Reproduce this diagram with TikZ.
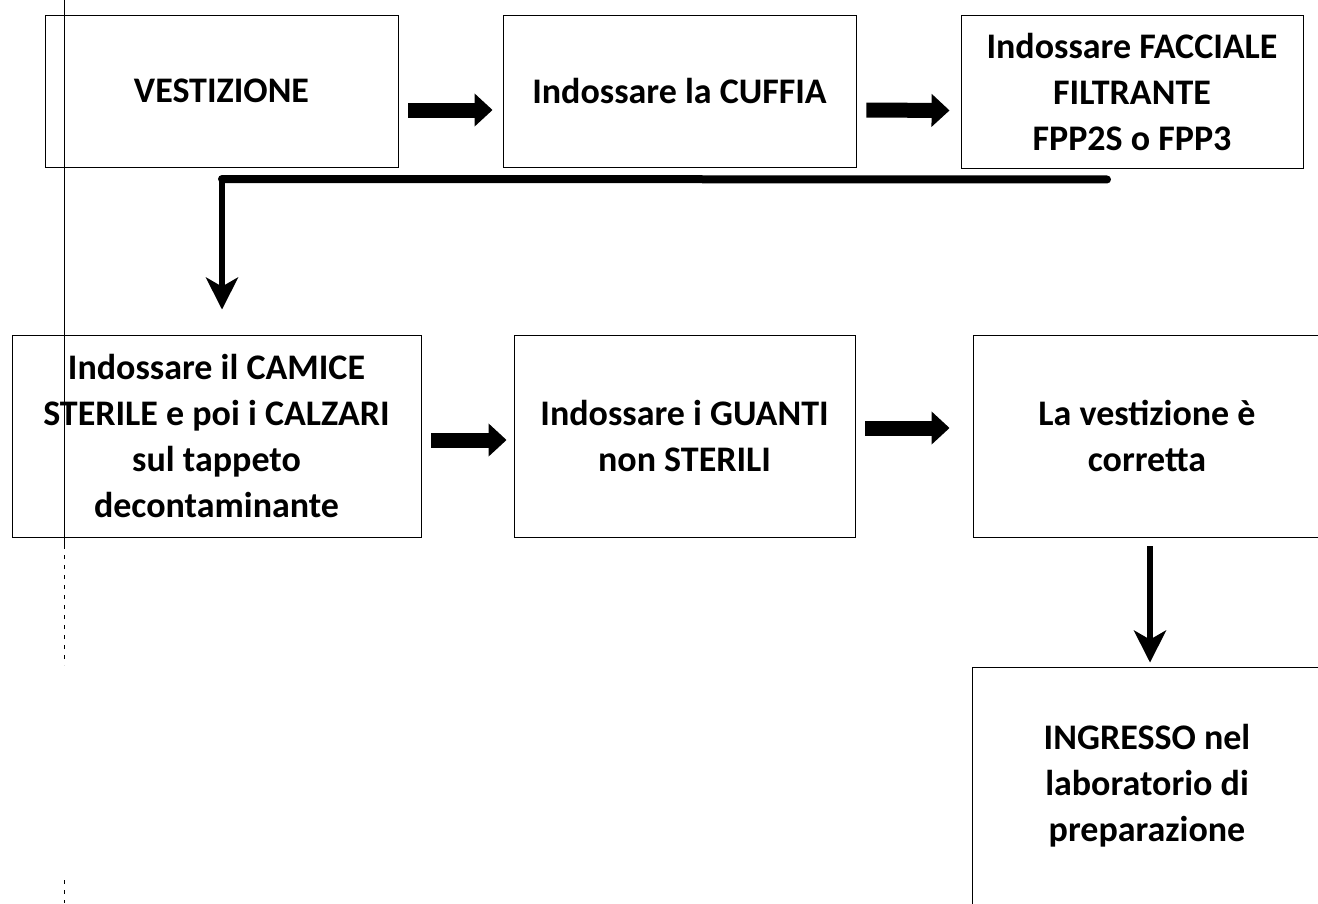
\documentclass[tikz,border=0pt]{standalone}
\usepackage{fontspec}
\setmainfont{Carlito}
\usetikzlibrary{arrows.meta}

\begin{document}
\begin{tikzpicture}[x=1pt, y=-1pt] %1 unit = 1 pixel of the scan, y grows downwards
\tikzstyle{every node} = [draw, line width=0.9pt, align=center, inner sep=0pt,
  font=\bfseries\fontsize{36}{46}\selectfont]
\tikzstyle{blockarrow} = [line width=15pt, -{Triangle[length=18pt, width=32pt]}]
\tikzstyle{downarrow} = [line width=6pt, -{Stealth[length=32pt, width=32pt, inset=9pt]}]
\useasboundingbox (0,0) rectangle (1318,903);
\clip (0,0) rectangle (1318,903);

% first row
\node [minimum width=353pt, minimum height=152pt] (vest) at (221.5, 91) {VESTIZIONE};
\node [minimum width=353pt, minimum height=152pt] (cuffia) at (679.5, 91) {Indossare la CUFFIA};
\node [minimum width=342pt, minimum height=153pt] (facciale) at (1132, 91.5)
  {Indossare FACCIALE\\FILTRANTE\\FPP2S o FPP3};

% second row
\node [minimum width=409pt, minimum height=202pt] (camice) at (216.5, 436)
  {Indossare il CAMICE\\STERILE e poi i CALZARI\\sul tappeto\\decontaminante};
\node [minimum width=341pt, minimum height=202pt] (guanti) at (684.5, 436)
  {Indossare i GUANTI\\non STERILI};
\node [minimum width=348pt, minimum height=202pt] (corretta) at (1147, 436)
  {La vestizione è\\corretta};

% last box, cut by the page edge
\node [minimum width=350pt, minimum height=238pt] (ingresso) at (1147, 786)
  {INGRESSO nel\\laboratorio di\\preparazione};

\foreach \from/\to/\dy/\sa/\sb in {vest/cuffia/19/10/10, cuffia/facciale/19/10/11,
  camice/guanti/4/10/7, guanti/corretta/-8/10/23}
\draw [blockarrow, shorten <=\sa pt, shorten >=\sb pt]
  ([yshift=-\dy pt]\from.east) -- ([yshift=-\dy pt]\to.west);

% back to the start of the second row
\coordinate (turn) at (222, 179);
\draw [line width=8pt, line cap=round] ([xshift=-25pt, yshift=-11pt]facciale.south) -- (turn);
\draw [downarrow] ([yshift=2pt]turn) -- ([yshift=25pt]camice.north -| turn);

\draw [downarrow, shorten <=9pt, shorten >=4pt] ([xshift=3pt]corretta.south) -- ([xshift=3pt]ingresso.north);

% margin line of the scanned page
\draw [line width=0.8pt] (64,0) -- (64,545);
\draw [line width=0.8pt, dash pattern=on 4pt off 6pt] (64,545) -- (64,665);
\draw [line width=0.8pt, dash pattern=on 4pt off 6pt] (64,880) -- (64,903);
\end{tikzpicture}
\end{document}
